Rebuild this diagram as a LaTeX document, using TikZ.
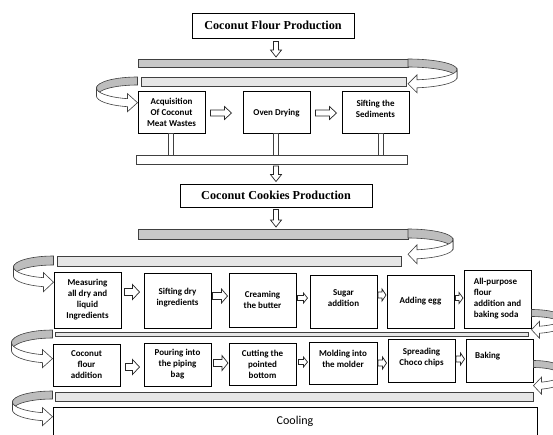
\documentclass[tikz,border=0pt]{standalone}
\usepackage{fontspec}
\setmainfont{Carlito}
\newfontfamily\titlefont{Liberation Serif}
\usetikzlibrary{calc}
\definecolor{ringgray}{HTML}{BDBDBD}
\definecolor{bargray}{HTML}{C8C8C8}
\definecolor{barlight}{HTML}{E6E6E6}
\definecolor{edge}{HTML}{404040}
\tikzset{
  box/.style={draw=black, line width=1pt, fill=white, inner sep=1pt, align=center,
    font=\fontsize{9}{11}\selectfont\bfseries},
  barbox/.style={draw=edge, line width=0.7pt, inner sep=0pt, outer sep=0pt},
  ringline/.style={draw=edge, line width=0.6pt},
  blockarrow/.style={draw=black!85, line width=0.7pt, fill=white},
  ttl/.style={draw=black, line width=0.9pt, inner sep=0pt, fill=white,
    font=\titlefont\bfseries\fontsize{12.2}{14}\selectfont},
}
% U-turn ribbon arrow: #1 start (top of band), #2 direction (1 right, -1 left),
% #3 x radius, #4 y radius, #5 band thickness, #6 head length
\newcommand\ring[6]{%
\begin{scope}[shift={(#1)},xscale=#2]
\pgfmathsetmacro\rphi{acos(#6/#3)}
\pgfmathsetmacro\ry{#4+#4*sin(\rphi)}
\filldraw[ringline,fill=ringgray] (0,0) arc[start angle=-90,end angle=0,x radius=#3,y radius=#4]
  -- ++(0,#5) arc[start angle=0,end angle=-90,x radius=#3,y radius=#4] -- cycle;
\filldraw[ringline,fill=white] (#3,#4) arc[start angle=0,end angle=\rphi,x radius=#3,y radius=#4]
  -- (#6,\ry-5) -- (0,\ry+#5/2) -- (#6,\ry+#5+5) -- (#6,\ry+#5)
  arc[start angle=\rphi,end angle=0,x radius=#3,y radius=#4] -- cycle;
\end{scope}}
% horizontal block arrow: from, to, y, gap1, gap2, shaft half, head half, head length
\newcommand\harr[8]{\draw[blockarrow] let \p1=(#1.east), \p2=(#2.west) in
 (\x1+#4pt,-#3pt+#6pt) -- (\x2-#5pt-#8pt,-#3pt+#6pt) -- (\x2-#5pt-#8pt,-#3pt+#7pt)
 -- (\x2-#5pt,-#3pt) -- (\x2-#5pt-#8pt,-#3pt-#7pt) -- (\x2-#5pt-#8pt,-#3pt-#6pt)
 -- (\x1+#4pt,-#3pt-#6pt) -- cycle;}
% vertical block arrow: from, to, x, gap1, gap2
\newcommand\varr[5]{\draw[blockarrow] let \p1=(#1.south), \p2=(#2.north) in
 (#3pt-2.5pt,\y1-#4pt) -- (#3pt-2.5pt,\y2+#5pt+7pt) -- (#3pt-5.5pt,\y2+#5pt+7pt)
 -- (#3pt,\y2+#5pt) -- (#3pt+5.5pt,\y2+#5pt+7pt) -- (#3pt+2.5pt,\y2+#5pt+7pt)
 -- (#3pt+2.5pt,\y1-#4pt) -- cycle;}
% post between a box and a bar below it
\newcommand\post[3]{\draw[barbox,fill=white] let \p1=(#1.south), \p2=(#2.north) in
 (\x1+#3pt-2.5pt,\y1) rectangle (\x1+#3pt+2.5pt,\y2);}
\begin{document}
\begin{tikzpicture}[x=1pt,y=-1pt]
\useasboundingbox (0,0) rectangle (553,434);
\fill[white] (0,0) rectangle (553,434);
\clip (0,0) rectangle (553,434);
% ---- coconut flour production
\node[ttl, minimum width=162pt, minimum height=25pt] (t1) at (273,25.5) {Coconut Flour Production};
\node[barbox, fill=bargray, minimum width=270pt, minimum height=8pt] (bar1) at (273,63) {};
\node[barbox, fill=barlight, minimum width=265pt, minimum height=9pt] (bar2) at (273.5,81.5) {};
\node[box, minimum width=67pt, minimum height=42pt] (acq) at (171.5,112) {Acquisition\\Of Coconut\\Meat Wastes};
\node[box, minimum width=67pt, minimum height=42pt] (oven) at (276.5,112) {\mbox{}\\[-2pt]Oven Drying};
\node[box, minimum width=67pt, minimum height=42pt] (sift) at (375.5,112) {Sifting the\\Sediments\\[-4pt]\mbox{}};
\node[barbox, fill=white, minimum width=271pt, minimum height=9pt] (bar7) at (271.5,159.5) {};
\node[ttl, minimum width=192pt, minimum height=23pt] (t2) at (276,195.5) {Coconut Cookies Production};
% ---- coconut cookies production
\node[barbox, fill=bargray, minimum width=270pt, minimum height=10pt] (bar3) at (273,234) {};
\node[barbox, fill=barlight, minimum width=344pt, minimum height=10pt] (bar4) at (229,261) {};
\node[box, minimum width=67pt, minimum height=56pt] (meas) at (87.5,300) {Measuring\\all dry and\\liquid\\Ingredients};
\node[box, minimum width=67pt, minimum height=55pt] (sdry) at (177.5,300.5) {Sifting dry\\ingredients\\[-4pt]\mbox{}};
\node[box, minimum width=67pt, minimum height=54pt] (cream) at (262.5,300) {Creaming\\the butter};
\node[box, minimum width=67pt, minimum height=53pt] (sugar) at (343.5,301.5) {Sugar\\addition\\[-4pt]\mbox{}};
\node[box, minimum width=67pt, minimum height=53pt] (egg) at (420.5,301.5) {Adding egg};
\node[box, minimum width=67pt, minimum height=58pt, align=left] (allp) at (497.5,299) {All-purpose\\flour\\addition and\\baking soda};
\node[barbox, fill=barlight, minimum width=473pt, minimum height=4pt] (bar5) at (291.5,334) {};
\node[box, minimum width=67pt, minimum height=42pt] (cfa) at (86.5,365) {Coconut\\flour\\addition};
\node[box, minimum width=67pt, minimum height=43pt] (pour) at (177.5,364.5) {Pouring into\\the piping\\bag};
\node[box, minimum width=67pt, minimum height=42pt] (cut) at (262.5,364) {Cutting the\\pointed\\bottom};
\node[box, minimum width=68pt, minimum height=42pt] (mold) at (343,363) {Molding into\\the molder\\[-3pt]\mbox{}};
\node[box, minimum width=67pt, minimum height=43pt] (spread) at (421.5,360.5) {Spreading\\Choco chips\\[-3pt]\mbox{}};
\node[box, minimum width=67pt, minimum height=43pt, text width=49pt, inner xsep=9pt, align=left] (bake) at (499.5,360.5) {Baking\\\mbox{}};
\node[barbox, fill=barlight, minimum width=478pt, minimum height=9pt] (bar6) at (294,396.5) {};
\node[box, minimum width=484pt, minimum height=28pt, font=\fontsize{12}{14}\selectfont] (cool) at (295,421) {Cooling};
% ---- ribbon U-turns
\ring{bar1.north east}{1}{49}{10.5}{8}{9}
\ring{bar2.north -| acq.west}{-1}{41}{11}{8}{10}
\ring{bar3.north east}{1}{45}{10.5}{9}{9}
\ring{bar4.north -| meas.west}{-1}{40}{11}{9}{10}
\ring{$(allp.north east)+(0,40)$}{1}{32}{8.5}{7}{8}
\ring{$(bar5.north -| cfa.west)+(0,-2)$}{-1}{41}{12.5}{8}{10}
\ring{$(bake.north east)+(0,22)$}{1}{32}{11}{7}{8}
\ring{$(bar6.north -| cool.west)+(0,-1)$}{-1}{40}{11}{8}{10}
% ---- posts
\post{acq}{bar7}{-1}
\post{oven}{bar7}{-1}
\post{sift}{bar7}{5}
% ---- down arrows
\varr{t1}{bar1}{276}{3}{2}
\varr{bar7}{t2}{276}{2}{2}
\varr{t2}{bar3}{276}{2}{2}
% ---- step arrows
\harr{acq}{oven}{113}{5}{11}{3}{6.5}{7}
\harr{oven}{sift}{113}{5}{5}{3}{6.5}{7}
\harr{meas}{sdry}{292}{3}{4}{3.5}{7.5}{7}
\harr{sdry}{cream}{296}{1}{1}{3.5}{7}{6}
\harr{cream}{sugar}{298}{1}{2}{2.5}{5}{4}
\harr{sugar}{egg}{295}{0.5}{0.5}{3}{6}{4}
\harr{egg}{allp}{298}{1}{0.5}{2.5}{5.5}{4}
\harr{cfa}{pour}{367}{5}{4}{3.5}{7.5}{7}
\harr{pour}{cut}{363}{2}{0.5}{3.5}{7.5}{6}
\harr{cut}{mold}{362}{2}{1}{2.5}{5}{4}
\harr{mold}{spread}{363}{0.5}{1}{3}{6}{4}
\harr{spread}{bake}{359}{0.5}{1}{3}{6}{4}
\end{tikzpicture}
\end{document}
